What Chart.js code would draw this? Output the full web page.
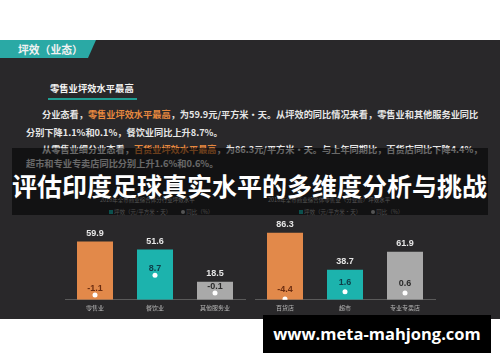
<!DOCTYPE html>
<html>
<head>
<meta charset="utf-8">
<script src="https://cdn.jsdelivr.net/npm/chart.js@4.4.1/dist/chart.umd.min.js"></script>
<style>
  html, body { margin: 0; padding: 0; }
  body { width: 500px; height: 362px; background: #fff; position: relative; overflow: hidden;
         font-family: "Noto Sans CJK SC", "Noto Sans", sans-serif; }
  .abs { position: absolute; white-space: nowrap; }
  #panel { left: 0; top: 40px; width: 500px; height: 279px; background: #29282a; }
  #banner { left: 0; top: 40px; width: 96px; height: 18px; background: #2aa9a5;
            clip-path: polygon(0 0, 96px 0, 88px 100%, 0 100%); }
  #bannerText { left: 18px; top: 40px; line-height: 18px; font-size: 10.8px; font-weight: bold; color: #f2f2f2; }
  #heading { left: 50px; top: 81px; line-height: 14px; font-size: 9.3px; font-weight: bold; color: #f4f4f4; }
  #underline { left: 48px; top: 98px; width: 89px; height: 2px; background: #1f9e92; }
  .para { line-height: 14px; font-size: 9.2px; font-weight: bold; color: #e6e6e6; }
  .hl { color: #e8893f; }
  .ctitle { font-size: 5.5px; line-height: 8px; color: #bbb; }
  .legend { font-size: 5.5px; line-height: 8px; color: #aaa; }
  .sq { display: inline-block; width: 4px; height: 4px; background: #1cb3ad; margin-right: 1px; vertical-align: 0; }
  .dot { display: inline-block; width: 4px; height: 4px; border-radius: 2px; background: #bbb; margin: 0 1px 0 10px; vertical-align: 0; }
  #overlay { left: 12px; top: 148px; width: 476px; height: 67px; background: rgba(0,0,0,0.55); z-index: 2; }
  #bigTitle { left: 12px; top: 168px; line-height: 34px; font-size: 25px; font-weight: bold; color: #fff; z-index: 3; }
  canvas { position: absolute; }
  #leftChart { left: 55px; top: 216px; }
  #rightChart { left: 245px; top: 216px; }
  #mark { left: 263px; top: 315px; width: 228px; height: 38px; background: #000; color: #fff; z-index: 4;
          font-family: "Open Sans", sans-serif; font-weight: bold; font-size: 16.5px; line-height: 38px; text-align: center; }
</style>
</head>
<body>
<div class="abs" id="panel"></div>
<div class="abs" id="banner"></div>
<div class="abs" id="bannerText">坪效（业态）</div>
<div class="abs" id="heading">零售业坪效水平最高</div>
<div class="abs" id="underline"></div>

<div class="abs para" style="left:42px;top:107px">分业态看，<span class="hl">零售业坪效水平最高</span>，为59.9元/平方米•天。从坪效的同比情况来看，零售业和其他服务业同比</div>
<div class="abs para" style="left:26px;top:125px">分别下降1.1%和0.1%，餐饮业同比上升8.7%。</div>
<div class="abs para" style="left:42px;top:142px">从零售业细分业态看，<span class="hl">百货业坪效水平最高</span>，为86.3元/平方米•天。与上年同期比，百货店同比下降4.4%，</div>
<div class="abs para" style="left:26px;top:156px">超市和专业专卖店同比分别上升1.6%和0.6%。</div>

<div class="abs ctitle" style="left:100px;top:196px">2018年全市商业综合体分行业坪效水平</div>
<div class="abs ctitle" style="left:268px;top:196px">2018年全市商业综合体零售业（分业态）坪效水平</div>
<div class="abs legend" style="left:109px;top:208px"><span class="sq"></span>坪效（元/平方米•天）<span class="dot"></span>同比（%）</div>
<div class="abs legend" style="left:299px;top:208px"><span class="sq"></span>坪效（元/平方米•天）<span class="dot"></span>同比（%）</div>

<div class="abs" id="overlay"></div>
<div class="abs" id="bigTitle">评估印度足球真实水平的多维度分析与挑战</div>

<canvas id="leftChart" width="200" height="104"></canvas>
<canvas id="rightChart" width="200" height="104"></canvas>

<div class="abs" id="mark">www.meta-mahjong.com</div>

<script>
// chart 1: by industry
const leftCategories = ['零售业', '餐饮业', '其他服务业'];
const leftEfficiency = [59.9, 51.6, 18.5];
const leftChange = [-1.1, 8.7, -0.1];

// chart 2: retail by format
const rightCategories = ['百货店', '超市', '专业专卖店'];
const rightEfficiency = [86.3, 38.7, 61.9];
const rightChange = [-4.4, 1.6, 0.6];

const barColors = ['#e2894a', '#1cb3ad', '#a9a9a9'];
const changeLabelColors = ['#6a2c10', '#0e3e48', '#2b2b2b'];

// draws the numbers above bars and dots
const valueLabels = {
  id: 'valueLabels',
  afterDatasetsDraw: (chart, args, opts) => {
    const { ctx } = chart;
    ctx.save();
    ctx.font = 'bold 9px "Liberation Sans", Arial, sans-serif';
    ctx.textAlign = 'center';
    ctx.textBaseline = 'bottom';
    const bars = chart.getDatasetMeta(0);
    bars.data.forEach((bar, i) => {
      ctx.fillStyle = '#e6e6e6';
      ctx.fillText(chart.data.datasets[0].data[i].toFixed(1), bar.x, bar.y - 4);
    });
    const pts = chart.getDatasetMeta(1);
    pts.data.forEach((pt, i) => {
      ctx.fillStyle = changeLabelColors[i];
      ctx.fillText(chart.data.datasets[1].data[i].toFixed(1), pt.x, pt.y - (opts.pointGap || 4));
    });
    ctx.restore();
  }
};

function makeChart(id, labels, bars, changes, yMax, y2Min, y2Max, pointGap) {
  return new Chart(document.getElementById(id), {
    data: {
      labels: labels,
      datasets: [{
        type: 'bar',
        data: bars,
        backgroundColor: barColors,
        categoryPercentage: 0.6,
        barPercentage: 1,
        yAxisID: 'y',
        order: 2
      }, {
        type: 'line',
        data: changes,
        showLine: false,
        pointRadius: 2.5,
        pointBackgroundColor: '#ffffff',
        pointBorderWidth: 0,
        yAxisID: 'y2',
        order: 1
      }]
    },
    options: {
      responsive: false,
      animation: false,
      layout: { padding: { left: 10, right: 10, top: 6, bottom: 5 } },
      plugins: {
        legend: { display: false },
        tooltip: { enabled: false },
        valueLabels: { pointGap: pointGap }
      },
      scales: {
        x: {
          grid: { display: false, drawTicks: false },
          border: { display: true, color: '#5a5a5a', width: 1 },
          ticks: { color: '#b5b5b5', padding: 4, font: { size: 6, family: '"Noto Sans CJK SC"' } }
        },
        y: { display: false, min: 0, max: yMax },
        y2: { display: false, min: y2Min, max: y2Max }
      }
    },
    plugins: [valueLabels]
  });
}

makeChart('leftChart', leftCategories, leftEfficiency, leftChange, 80, -3.5, 35, 2);
makeChart('rightChart', rightCategories, rightEfficiency, rightChange, 100, -5, 58, 5);
</script>
</body>
</html>
